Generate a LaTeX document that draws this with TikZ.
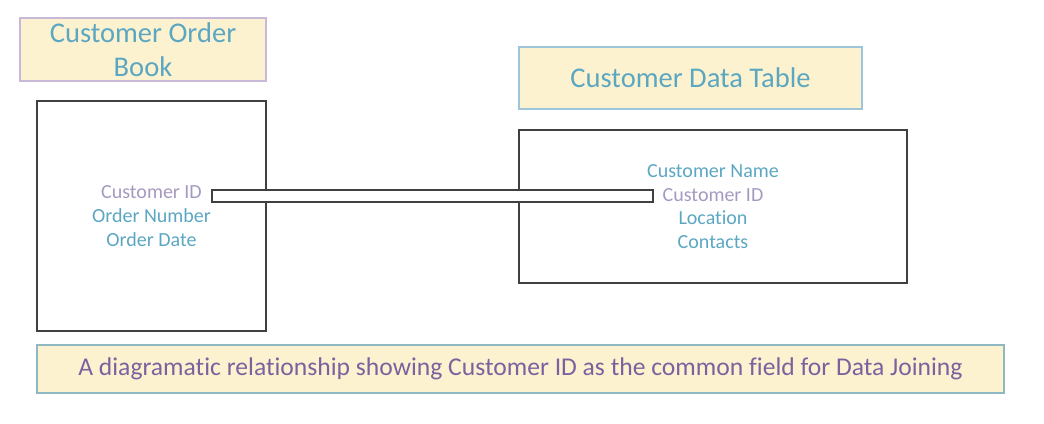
\documentclass[tikz,border=0pt]{standalone}
\usepackage{fontspec}
\setmainfont[Ligatures=NoCommon]{Carlito}
\usepackage{xcolor}
\usepackage{tikz}
\definecolor{fieldblue}{HTML}{5BA7C2}
\definecolor{keypurple}{HTML}{A699C0}
\definecolor{notepurple}{HTML}{7D619F}
\definecolor{paleyellow}{HTML}{FDF2D0}
\definecolor{lavedge}{HTML}{C8B9D8}
\definecolor{blueedge}{HTML}{9DC6DA}
\definecolor{tealedge}{HTML}{8DB8C4}
\definecolor{boxedge}{HTML}{404040}
\tikzset{
  titlebox/.style={draw,fill=paleyellow,line width=1.2pt,inner sep=0pt,align=center,
    text=fieldblue,font=\fontsize{21.4}{25.5}\selectfont},
  tablebox/.style={draw=boxedge,line width=0.9pt,inner sep=0pt},
  field/.style={text=fieldblue,font=\fontsize{15}{18}\selectfont,inner sep=0pt},
  keyfield/.style={field,text=keypurple}
}
\begin{document}
\begin{tikzpicture}[x=0.75pt,y=-0.75pt]
\useasboundingbox (0,0) rectangle (1044,424);
\begin{scope}
\node[titlebox,draw=lavedge,minimum width=184.5pt,minimum height=47.25pt] (ordertitle) at (143,49.5) {Customer Order\\Book};
\node[titlebox,draw=blueedge,minimum width=257.25pt,minimum height=46.5pt] (datatitle) at (690.5,78) {Customer Data Table};
\node[tablebox,minimum width=171.75pt,minimum height=172.5pt] (orderbook) at (151.5,216) {};
\node[tablebox,minimum width=291pt,minimum height=114.75pt] (datatable) at (713,206.5) {};
\end{scope}
\node[draw=boxedge,fill=white,line width=0.9pt,inner sep=0pt,minimum width=330.75pt,minimum height=9pt] (link) at (432.5,196) {};
% fields of the order book
\node[keyfield] (oid) at (151.5,192) {Customer ID};
\node[field] (onum) at (151.5,216) {Order Number};
\node[field] (odate) at (151.5,240) {Order Date};
% fields of the data table
\node[field] (dname) at (713,171) {Customer Name};
\node[keyfield] (did) at (713,195) {Customer ID};
\node[field] (dloc) at (713,218) {Location};
\node[field] (dcont) at (713,242) {Contacts};
\node[titlebox,draw=tealedge,line width=0.9pt,text=notepurple,font=\fontsize{19.2}{23}\selectfont,
  minimum width=725.25pt,minimum height=36pt] (note) at (520.5,369) {A diagramatic relationship showing Customer ID as the common field for Data Joining};
\end{tikzpicture}
\end{document}
